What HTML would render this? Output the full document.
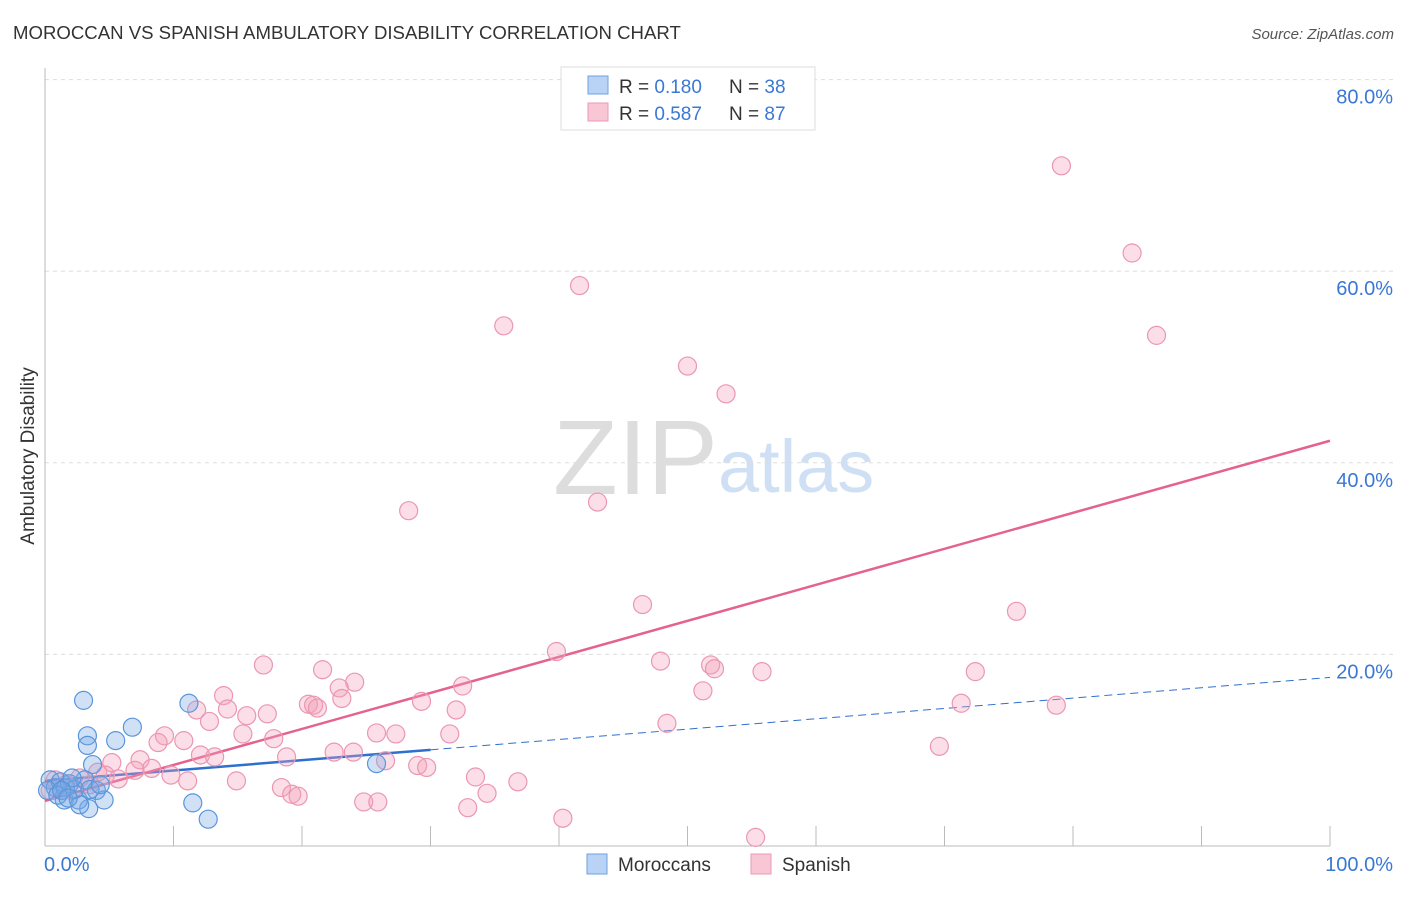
<!DOCTYPE html>
<html><head><meta charset="utf-8"><style>
body{margin:0;background:#fff;font-family:"Liberation Sans",sans-serif;}
svg text{font-family:"Liberation Sans",sans-serif;}
</style></head><body>
<svg width="1406" height="892" xmlns="http://www.w3.org/2000/svg">
<text x="13" y="39" font-size="18.6" fill="#333">MOROCCAN VS SPANISH AMBULATORY DISABILITY CORRELATION CHART</text>
<text x="1394" y="39" font-size="15" fill="#555" text-anchor="end" font-style="italic">Source: ZipAtlas.com</text>
<g>
<text x="553" y="494" font-size="106" fill="#ddd" font-family="Liberation Serif,serif">ZIP</text>
<text x="718" y="492" font-size="74" fill="#cfe0f5">atlas</text>
</g>
<g id="grid"></g>
<g id="axes"></g>
<g id="lines"></g>
<g id="pts"></g>
<text x="34" y="456" font-size="19" fill="#333" transform="rotate(-90 34 456)" text-anchor="middle">Ambulatory Disability</text>
<g>
<rect x="561" y="67" width="254" height="63" fill="#fff" stroke="#ddd"/>
<rect x="588" y="76" width="20" height="18" fill="#b8d3f5" stroke="#6fa0e0"/>
<rect x="588" y="103" width="20" height="18" fill="#f9c6d5" stroke="#ec99b3"/>
<text x="619" y="93" font-size="19" fill="#333">R = <tspan fill="#3a78d4">0.180</tspan></text>
<text x="729" y="93" font-size="19" fill="#333">N = <tspan fill="#3a78d4">38</tspan></text>
<text x="619" y="120" font-size="19" fill="#333">R = <tspan fill="#3a78d4">0.587</tspan></text>
<text x="729" y="120" font-size="19" fill="#333">N = <tspan fill="#3a78d4">87</tspan></text>
</g>
<g>
<rect x="587" y="854" width="20" height="20" fill="#b8d3f5" stroke="#6fa0e0"/>
<text x="618" y="871" font-size="19" fill="#333">Moroccans</text>
<rect x="751" y="854" width="20" height="20" fill="#f9c6d5" stroke="#ec99b3"/>
<text x="782" y="871" font-size="19" fill="#333">Spanish</text>
</g>
</svg>
<script>
const yTicks=[20,40,60,80];
const xTickLabels=["0.0%","100.0%"];
const pinkX=[79.1,84.6,86.5,41.6,35.7,50.0,53.0,28.3,43.0,46.5,75.6,39.8,47.9,51.8,52.1,55.8,72.4,17.0,21.6,24.1,32.5,22.9,51.2,13.9,23.1,29.3,20.5,20.9,21.2,71.3,78.7,11.8,32.0,14.2,15.7,17.3,12.8,48.4,25.8,27.3,31.5,15.4,9.3,17.8,10.8,8.8,69.6,22.5,24.0,12.1,13.2,18.8,7.4,5.2,26.5,29.0,29.7,8.3,4.1,7.0,4.7,9.8,5.7,33.5,14.9,11.1,36.8,18.4,19.2,19.7,34.4,24.8,25.9,32.9,40.3,55.3,0.8,1.6,2.7,3.5,0.4,2.1];
const pinkY=[71.0,61.9,53.3,58.5,54.3,50.1,47.2,35.0,35.9,25.2,24.5,20.3,19.3,18.9,18.5,18.2,18.2,18.9,18.4,17.1,16.7,16.5,16.2,15.7,15.4,15.1,14.8,14.7,14.4,14.9,14.7,14.2,14.2,14.3,13.6,13.8,13.0,12.8,11.8,11.7,11.7,11.7,11.5,11.2,11.0,10.8,10.4,9.8,9.8,9.5,9.3,9.3,9.0,8.7,8.9,8.4,8.2,8.1,7.7,7.9,7.4,7.4,7.0,7.2,6.8,6.8,6.7,6.1,5.4,5.2,5.5,4.6,4.6,4.0,2.9,0.9,6.9,6.4,7.1,6.4,5.8,5.8];
const blueX=[3.0,11.2,6.8,3.3,3.3,5.5,25.8,3.7,4.0,4.6,11.5,3.4,12.7,1.5,2.6,2.7,0.4,0.8,1.2,1.6,1.9,2.3,0.2,1.0,3.1,3.5,2.1,1.3,4.3,1.8];
const blueY=[15.2,14.9,12.4,11.5,10.5,11.0,8.6,8.5,5.8,4.8,4.5,3.9,2.8,4.8,4.8,4.3,6.9,6.1,6.7,6.1,6.5,5.9,5.8,5.3,6.9,5.9,7.1,5.8,6.4,5.0];
const pinkTrend=[4.7,42.3];
const blueTrend=[6.8,17.6];
const blueSolidEnd=30;
const NS="http://www.w3.org/2000/svg";
const sx=v=>45+v*12.85, sy=v=>846-v*9.58;
function mk(tag,attrs,parent){const e=document.createElementNS(NS,tag);for(const k in attrs)e.setAttribute(k,attrs[k]);document.getElementById(parent).appendChild(e);return e;}
yTicks.forEach(t=>{
 const l=mk('line',{x1:45,x2:1395,y1:sy(t),y2:sy(t),stroke:'#ddd','stroke-dasharray':'4,4'},'grid');
 
 
 const tx=mk('text',{x:1393,y:sy(t)+24,'font-size':20,fill:'#3a78d4','text-anchor':'end'},'grid');
 tx.textContent=t.toFixed(1)+'%';
 
 
});
mk('line',{x1:45,x2:45,y1:68,y2:846,stroke:'#bbb'},'axes');
mk('line',{x1:45,x2:1330,y1:846,y2:846,stroke:'#bbb'},'axes');
for(let i=1;i<=10;i++){const t=mk('line',{x1:sx(i*10),x2:sx(i*10),y1:826,y2:846,stroke:'#bbb'},'axes');
 
 }
[[0,'start',44],[100,'end',1393]].forEach((d,i)=>{const t=mk('text',{x:d[2],y:871,'font-size':20,fill:'#3a78d4','text-anchor':d[1]},'axes');t.textContent=xTickLabels[i];
 
 });
pinkX.forEach((x,i)=>{const c=mk('circle',{cx:sx(x),cy:sy(pinkY[i]),r:9,fill:'rgba(244,160,185,0.35)',stroke:'#eb97b1','stroke-width':1.2},'pts');
 
 });
blueX.forEach((x,i)=>{const c=mk('circle',{cx:sx(x),cy:sy(blueY[i]),r:9,fill:'rgba(120,170,230,0.35)',stroke:'#5a95db','stroke-width':1.2},'pts');
 
 });
const bAt=x=>blueTrend[0]+(blueTrend[1]-blueTrend[0])*x/100;
let l1=mk('line',{x1:sx(0),y1:sy(bAt(0)),x2:sx(blueSolidEnd),y2:sy(bAt(blueSolidEnd)),stroke:'#2f6fd0','stroke-width':2.5},'lines');


let l2=mk('line',{x1:sx(blueSolidEnd),y1:sy(bAt(blueSolidEnd)),x2:sx(100),y2:sy(bAt(100)),stroke:'#2f6fd0','stroke-width':1,'stroke-dasharray':'8,5'},'lines');


let l3=mk('line',{x1:sx(0),y1:sy(pinkTrend[0]),x2:sx(100),y2:sy(pinkTrend[1]),stroke:'#e4628e','stroke-width':2.5},'lines');


</script>
</body></html>
